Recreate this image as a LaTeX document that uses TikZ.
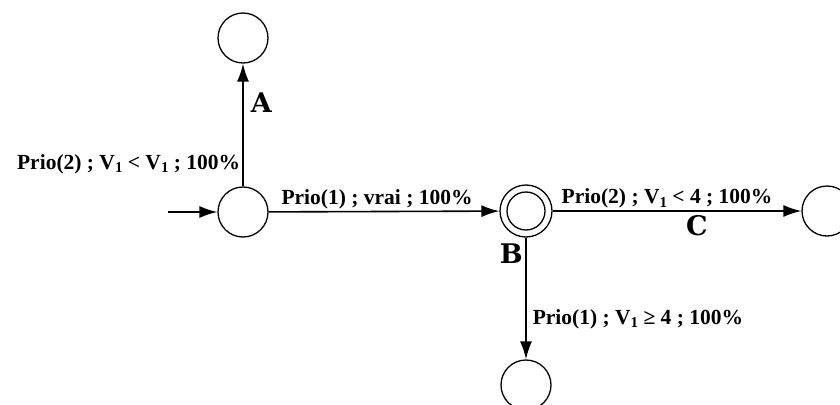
\documentclass[tikz,border=0pt]{standalone}
\usepackage{fontspec}
\usepackage{tikz}
\newfontfamily\timesfont{Liberation Serif}
\newfontfamily\lettrefont{DejaVu Serif}
\usetikzlibrary{positioning,shapes,arrows.meta}

% indice du V
\newcommand{\Vsub}{V\raisebox{-.35ex}{\fontsize{15}{15}\selectfont 1}}

\begin{document}
\begin{tikzpicture}[x=1pt,y=-1pt,
        etat/.style = {circle, draw, line width=1.3pt,
        minimum size=50pt, inner sep=0pt},
        trans/.style = {line width=1.6pt, -{Latex[length=18pt,width=12pt]}},
        cond/.style = {font=\timesfont\bfseries\fontsize{21.5}{23}\selectfont,
        inner sep=2pt},
        lettre/.style = {font=\lettrefont\bfseries\fontsize{27}{28}\selectfont,
        inner sep=0pt}]
        \useasboundingbox (0,0) rectangle (840,404);
        % les etats
        \node[etat] (e0) at (243,212) {};
        \node[etat] (e1) at (243,38) {};
        \node[etat, minimum size=52pt] (e2) at (526,211) {};
        \draw[line width=1.3pt] (e2.center) circle (19pt);
        \node[etat] (e3) at (827,211) {};
        \node[etat] (e4) at (526,385) {};
        \coordinate (entree) at (168,212);
        % les transitions
        \draw[trans] (entree) -- (e0);
        \draw[trans] (e0) --
                node[cond, pos=0.18, left] {Prio(2) ; \Vsub{} < \Vsub{} ; 100\%}
                node[lettre, pos=0.68, right=7pt] {A}
                (e1);
        \draw[trans] (e0) --
                node[cond, pos=0.47, above] {Prio(1) ; vrai ; 100\%}
                (e2);
        \draw[trans] (e2) --
                node[cond, pos=0.46, above] {Prio(2) ; \Vsub{} < 4 ; 100\%}
                node[lettre, pos=0.58, below=4pt] {C}
                (e3);
        \draw[trans] (e2) --
                node[cond, pos=0.67, right=4pt] {Prio(1) ; \Vsub{} ≥ 4 ; 100\%}
                (e4);
        \node[lettre, anchor=north east] (lblB) at ([xshift=-3pt,yshift=-6pt]e2.south) {B};
\end{tikzpicture}
\end{document}
